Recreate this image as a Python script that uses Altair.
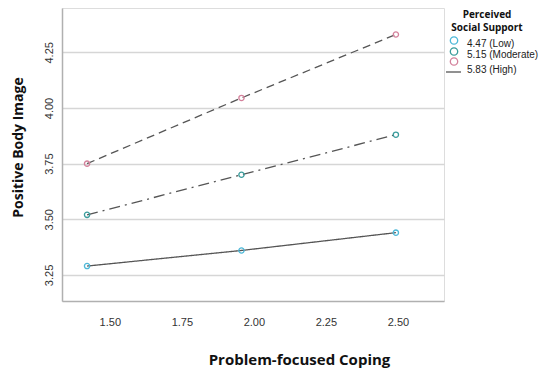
import altair as alt
import pandas as pd

# Data
coping = [1.421, 1.957, 2.493]
low = [3.29, 3.36, 3.44]
moderate = [3.52, 3.70, 3.88]
high = [3.75, 4.045, 4.33]
groups = ["4.47 (Low)", "5.15 (Moderate)", "5.83 (High)"]
colors = ["#4db8d8", "#3a9c9c", "#d4829c"]
x_ticks = [1.50, 1.75, 2.00, 2.25, 2.50]
y_ticks = [3.25, 3.50, 3.75, 4.00, 4.25]

rows = []
for g, vals in zip(groups, [low, moderate, high]):
    for x, y in zip(coping, vals):
        rows.append({"x": x, "y": y, "group": g})
df = pd.DataFrame(rows)

W, H = 382, 293

xs = alt.Scale(domain=[1.334, 2.66], nice=False, zero=False)
ys = alt.Scale(domain=[3.133, 4.449], nice=False, zero=False)
col = alt.Scale(domain=groups, range=colors)
dash = alt.Scale(domain=groups, range=[[1, 0], [11, 5, 2, 5], [8, 5]])

xenc = alt.X("x:Q", scale=xs, axis=alt.Axis(
    values=x_ticks, format=".2f", title="Problem-focused Coping",
    grid=False, ticks=False, labelPadding=15, labelFontSize=11,
    labelFont="Liberation Sans", labelColor="#333333",
    titleFont="Open Sans", titleFontSize=15, titleFontWeight="bold",
    titleColor="#111111", titleX=237, titleY=58, titleBaseline="middle",
    domainColor="#b0b0b0", domainWidth=1.5))
yenc = alt.Y("y:Q", scale=ys, axis=alt.Axis(
    values=y_ticks, format=".2f", title="Positive Body Image",
    grid=True, gridColor="#d6d6d6", gridWidth=1.5, ticks=False,
    labelAngle=270, labelAlign="center", labelBaseline="bottom",
    labelPadding=8, labelFontSize=11, labelFont="Liberation Sans",
    labelColor="#333333",
    titleFont="Open Sans", titleFontSize=14, titleFontWeight="bold",
    titleColor="#111111", titleX=-44, titleY=139, titleBaseline="middle",
    domainColor="#b0b0b0", domainWidth=1.5))

lines = alt.Chart(df).mark_line(color="#555555", strokeWidth=1.3).encode(
    x=xenc, y=yenc,
    strokeDash=alt.StrokeDash("group:N", scale=dash, legend=None),
    detail="group:N")

points = alt.Chart(df).mark_point(shape="circle", filled=False, size=28,
                                  strokeWidth=1.3, opacity=1).encode(
    x="x:Q", y="y:Q",
    color=alt.Color("group:N", scale=col, legend=None))

# manual legend (pixel positions relative to plot area)
leg_title = pd.DataFrame({"t": ["Perceived", "Social Support"],
                          "px": [425, 425], "py": [7, 19.5]})
leg_circ = pd.DataFrame({"group": groups, "px": [392, 392, 392], "py": [32.5, 43.5, 53.5]})
leg_lab = pd.DataFrame({"t": groups, "px": [405, 405, 405], "py": [35.5, 46.5, 62]})

lt = alt.Chart(leg_title).mark_text(font="Open Sans", fontSize=10, fontWeight="bold",
                                    color="#111111", align="center",
                                    baseline="middle").encode(
    x=alt.X("px:Q", scale=None), y=alt.Y("py:Q", scale=None), text="t:N")
lc = alt.Chart(leg_circ).mark_point(shape="circle", filled=False, size=55,
                                    strokeWidth=1.3, opacity=1).encode(
    x=alt.X("px:Q", scale=None), y=alt.Y("py:Q", scale=None),
    color=alt.Color("group:N", scale=col, legend=None))
ll = alt.Chart(leg_lab).mark_text(font="Liberation Sans", fontSize=10,
                                  color="#222222", align="left",
                                  baseline="middle").encode(
    x=alt.X("px:Q", scale=None), y=alt.Y("py:Q", scale=None), text="t:N")
lr = alt.Chart(pd.DataFrame({"a": [1]})).mark_rule(color="#555555", strokeWidth=1.3).encode(
    x=alt.value(384), x2=alt.value(399), y=alt.value(64))

chart = alt.layer(lines, points, lt, lc, ll, lr).properties(
    width=W, height=H,
    autosize=alt.AutoSizeParams(type="none"),
    padding={"left": 54, "top": 0, "right": 96, "bottom": 68},
).configure_view(strokeWidth=0, stroke="transparent").configure(background="white")

chart.save("out.html", embed_options={"renderer": "svg", "actions": False})
